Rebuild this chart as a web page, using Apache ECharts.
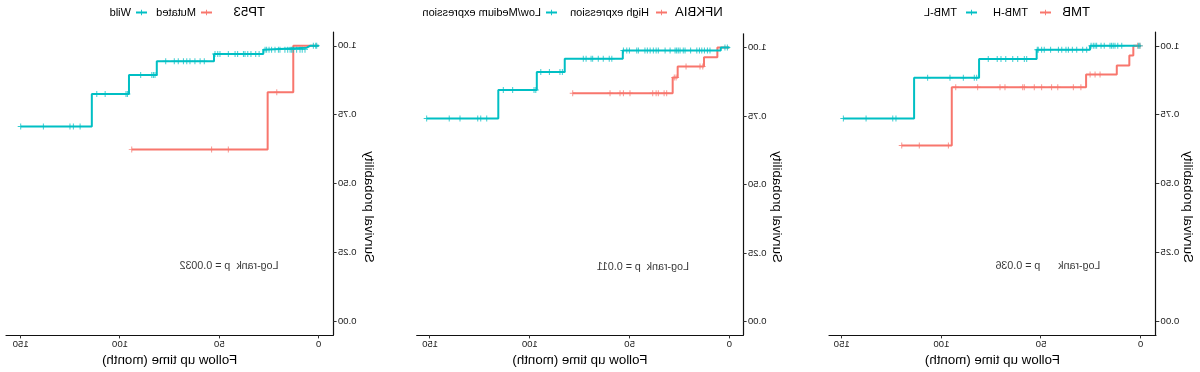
<!DOCTYPE html>
<html><head><meta charset="utf-8">
<script src="https://cdn.jsdelivr.net/npm/echarts@6/dist/echarts.min.js"></script>
<style>html,body{margin:0;padding:0;background:#fff}#c{width:1200px;height:372px;transform:scaleX(-1);}</style>
</head><body><div id="c"></div><script>
const FONT = '"Liberation Sans", Arial, Helvetica, sans-serif';
const RED = '#F8766D', CYAN = '#00BFC4';

// ---------- data ----------
const panelTitles = ['TMB', 'NFKBIA', 'TP53'];
const groupNames = [['TMB-H', 'TMB-L'], ['High expression', 'Low/Medium expression'], ['Mutated', 'Wild']];
const pValues = ['p = 0.036', 'p = 0.011', 'p = 0.0032'];
const xTicks = [0, 50, 100, 150];
const yTicks = [0, 0.25, 0.5, 0.75, 1];

// TMB
const tmbH_times = [0, 3.7, 5.7, 12.0, 27.4, 94.8];
const tmbH_surv = [1.0, 0.965, 0.929, 0.896, 0.850, 0.638];
const tmbH_censor = [0.4, 1.5, 20.4, 22.9, 25.4, 30.0, 33.8, 41.6, 44.7, 49.7, 53.4, 58.4, 59.2, 68.1, 70.6, 81.8, 92.8, 96.5, 111.1, 119.9];
const tmbL_times = [0, 25.4, 52.2, 81.1, 113.7];
const tmbL_surv = [1.0, 0.986, 0.952, 0.884, 0.736];
const tmbL_censor = [0.4, 1.2, 9.5, 11.5, 12.9, 13.8, 14.6, 15.4, 18.3, 19.9, 22.1, 22.9, 23.8, 24.9, 27.1, 29.1, 32.1, 34.3, 36.3, 37.5, 39.6, 41.3, 45.2, 48.4, 49.7, 51.4, 51.9, 57.2, 58.4, 61.7, 64.2, 67.7, 70.1, 72.0, 76.5, 82.3, 83.5, 89.0, 95.7, 106.9, 122.8, 124.4, 137.8, 149.2];

// NFKBIA
const nfHigh_times = [0, 6.0, 12.7, 25.9, 28.4];
const nfHigh_surv = [1.0, 0.964, 0.930, 0.890, 0.833];
const nfHigh_censor = [13.3, 14.7, 21.7, 26.7, 27.6, 31.4, 32.7, 35.6, 36.7, 38.4, 49.8, 53.1, 54.8, 59.8, 78.5];
const nfLow_times = [0, 4.3, 53.4, 82.5, 96.5, 115.8];
const nfLow_surv = [1.0, 0.989, 0.959, 0.910, 0.845, 0.741];
const nfLow_censor = [1.0, 2.2, 9.7, 11.0, 12.5, 13.8, 15.0, 16.3, 19.4, 22.2, 23.1, 24.7, 25.6, 26.4, 27.2, 29.7, 32.2, 35.6, 36.7, 38.1, 39.7, 41.1, 42.3, 45.6, 46.4, 50.1, 51.4, 53.1, 58.9, 60.2, 63.2, 65.7, 68.5, 69.3, 71.8, 73.2, 83.7, 84.9, 90.2, 94.5, 97.0, 97.9, 108.6, 113.3, 121.6, 124.6, 126.1, 135.0, 140.4, 151.7];

// TP53
const tpMut_times = [0, 12.8, 25.7];
const tpMut_surv = [1.0, 0.831, 0.624];
const tpMut_censor = [21.1, 45.5, 53.9, 94.1];
const tpWild_times = [0, 4.4, 6.0, 27.9, 52.7, 81.5, 95.5, 114.2];
const tpWild_surv = [1.0, 0.993, 0.986, 0.970, 0.944, 0.894, 0.825, 0.707];
const tpWild_censor = [1.0, 1.5, 2.7, 6.9, 8.3, 9.4, 11.1, 12.8, 13.6, 14.4, 15.6, 17.0, 19.5, 20.3, 22.0, 23.7, 25.0, 26.2, 27.0, 30.0, 31.7, 34.1, 35.7, 37.1, 37.9, 40.8, 42.1, 45.5, 49.7, 50.8, 52.2, 57.6, 59.7, 62.3, 64.8, 66.4, 68.1, 70.7, 72.7, 77.0, 82.4, 83.2, 84.0, 89.6, 96.3, 97.0, 107.5, 111.7, 120.1, 123.5, 125.2, 138.6, 150.0];

const curves = [
  [[tmbH_times, tmbH_surv, tmbH_censor], [tmbL_times, tmbL_surv, tmbL_censor]],
  [[nfHigh_times, nfHigh_surv, nfHigh_censor], [nfLow_times, nfLow_surv, nfLow_censor]],
  [[tpMut_times, tpMut_surv, tpMut_censor], [tpWild_times, tpWild_surv, tpWild_censor]]
];

// ---------- layout (unmirrored pixel space) ----------
const layout = [
  {left: 44, top: 32.1, width: 327, height: 305.8, xMin: -7.68, xMax: 156.4, titleX: 110, keyX: [148, 222], textX: [171, 242], yTitleX: 12, gap: '      '},
  {left: 456.7, top: 33.75, width: 326.6, height: 306.9, xMin: -7.0, xMax: 156.7, titleX: 477.3, keyX: [532, 642], textX: [550, 658], yTitleX: 423.3, gap: '  '},
  {left: 866.7, top: 32.0, width: 327.3, height: 307.3, xMin: -7.35, xMax: 157.4, titleX: 935, keyX: [987, 1052], textX: [1001.7, 1068], yTitleX: 831.3, gap: '  '}
];
const PLUS = 'path://M0,4.2H10V5.8H0Z M4.2,0H5.8V10H4.2Z';
const COLORS = [RED, CYAN];
const KEYW = 11;

function survAt(times, surv, t) {
  let v = surv[0];
  for (let i = 0; i < times.length; i++) if (times[i] <= t) v = surv[i];
  return v;
}

const grids = [], xAxes = [], yAxes = [], series = [], legends = [], titles = [], graphics = [];
layout.forEach((L, p) => {
  grids.push({left: L.left, top: L.top, width: L.width, height: L.height});
  xAxes.push({
    type: 'value', gridIndex: p, min: L.xMin, max: L.xMax,
    name: 'Follow up time (month)', nameLocation: 'middle', nameGap: 16.5,
    nameTextStyle: {fontSize: 13.3, color: '#000', fontFamily: FONT},
    axisLine: {onZero: false, lineStyle: {color: '#111', width: 1.2}},
    axisTick: {length: 3.3, lineStyle: {color: '#333', width: 1}, customValues: xTicks},
    axisLabel: {customValues: xTicks, fontSize: 9.6, color: '#222', fontFamily: FONT, margin: 4},
    splitLine: {show: false}
  });
  yAxes.push({
    type: 'value', gridIndex: p, min: -0.05, max: 1.05,
    axisLine: {show: true, onZero: false, lineStyle: {color: '#111', width: 1.2}},
    axisTick: {show: true, length: 3.3, lineStyle: {color: '#333', width: 1}, customValues: yTicks},
    axisLabel: {customValues: yTicks, fontSize: 9.6, color: '#222', fontFamily: FONT, margin: 4.5,
      formatter: v => v.toFixed(2)},
    splitLine: {show: false}
  });
  const lines = [], marks = [];
  curves[p].forEach((c, g) => {
    const [times, surv, cens] = c;
    const end = Math.max(...cens, times[times.length - 1]);
    const pts = times.map((t, i) => [t, surv[i]]);
    pts.push([end, surv[surv.length - 1]]);
    const name = groupNames[p][g];
    lines.push({
      type: 'line', name, xAxisIndex: p, yAxisIndex: p, data: pts, step: 'end',
      showSymbol: false, symbol: PLUS, color: COLORS[g],
      lineStyle: {width: 2, color: COLORS[g]}, itemStyle: {color: COLORS[g]}, z: 2 + g
    });
    marks.push({
      type: 'scatter', name, xAxisIndex: p, yAxisIndex: p, symbol: PLUS, symbolSize: 6,
      data: cens.map(t => [t, survAt(times, surv, t)]),
      itemStyle: {color: COLORS[g]}, z: 4 + g, silent: true
    });
    legends.push({
      data: [name], left: L.keyX[g], top: 7, padding: 0, itemWidth: KEYW, itemHeight: 7,
      selectedMode: false,
      textStyle: {fontSize: 11, color: '#000', fontFamily: FONT,
        padding: [0, 0, 0, Math.max(0, L.textX[g] - L.keyX[g] - KEYW - 5)]}
    });
  });
  series.push(...lines, ...marks);
  series.push({
    type: 'scatter', xAxisIndex: p, yAxisIndex: p, data: [[20, 0.2]], symbolSize: 1,
    itemStyle: {color: 'rgba(0,0,0,0)'}, silent: true,
    label: {show: true, position: 'right', distance: 0, color: '#000', fontSize: 10.7, fontFamily: FONT,
      formatter: 'Log-rank' + L.gap + pValues[p]}
  });
  titles.push({text: panelTitles[p], left: L.titleX, top: 6, padding: 0,
    textStyle: {fontSize: 13.2, fontWeight: 'normal', color: '#000', fontFamily: FONT}});
  graphics.push({type: 'text', x: L.yTitleX, y: 207, rotation: Math.PI / 2,
    style: {text: 'Survival probability', fontSize: 13.3, fontFamily: FONT, fill: '#000', align: 'center', verticalAlign: 'middle'}});
});

const chart = echarts.init(document.getElementById('c'), null, {renderer: 'canvas'});
chart.setOption({
  animation: false, backgroundColor: '#fff',
  title: titles, legend: legends, grid: grids, xAxis: xAxes, yAxis: yAxes, series, graphic: graphics
});
</script></body></html>
